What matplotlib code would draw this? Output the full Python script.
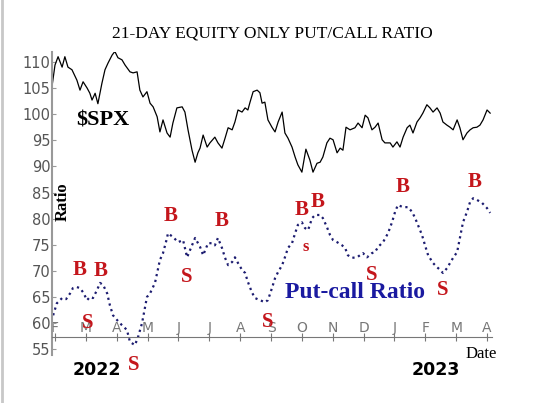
# Grafico: razon put/call de 21 dias (solo acciones) contra el SPX.

import matplotlib
matplotlib.use('Agg')
import matplotlib.pyplot as plt

# Meses del eje x (feb 2022 - abr 2023), posicion = indice del mes.
meses = ['F', 'M', 'A', 'M', 'J', 'J', 'A', 'S', 'O', 'N', 'D', 'J', 'F', 'M', 'A']
ticks_y = [55, 60, 65, 70, 75, 80, 85, 90, 95, 100, 105, 110]

# $SPX (escalado sobre el mismo eje).
spx_x = [-0.09, 0.00, 0.10, 0.23, 0.32, 0.42, 0.55, 0.71, 0.81, 0.91, 1.04, 1.13,
         1.20, 1.30, 1.39, 1.52, 1.62, 1.72, 1.85, 1.94, 2.04, 2.17, 2.27, 2.43,
         2.53, 2.66, 2.75, 2.85, 2.98, 3.08, 3.18, 3.31, 3.40, 3.50, 3.63, 3.73,
         3.82, 3.95, 4.12, 4.21, 4.31, 4.44, 4.54, 4.63, 4.70, 4.80, 4.93, 5.02,
         5.18, 5.28, 5.41, 5.51, 5.61, 5.74, 5.83, 5.93, 6.06, 6.16, 6.25, 6.32,
         6.42, 6.55, 6.64, 6.71, 6.80, 6.90, 7.03, 7.13, 7.23, 7.36, 7.45, 7.55,
         7.68, 7.78, 7.87, 8.00, 8.13, 8.26, 8.36, 8.49, 8.59, 8.68, 8.81, 8.91,
         9.01, 9.14, 9.24, 9.33, 9.43, 9.56, 9.72, 9.82, 9.95, 10.05, 10.14, 10.27,
         10.37, 10.47, 10.60, 10.69, 10.86, 10.95, 11.08, 11.18, 11.28, 11.41, 11.50, 11.60,
         11.73, 11.83, 11.92, 12.05, 12.15, 12.25, 12.38, 12.48, 12.57, 12.70, 12.80, 12.90,
         13.03, 13.12, 13.22, 13.35, 13.45, 13.55, 13.67, 13.77, 13.87, 14.00, 14.10]
spx_y = [105.6, 109.4, 111.0, 109.0, 111.0, 109.0, 108.5, 106.5, 104.6, 106.2, 105.0, 104.0,
         102.7, 104.0, 102.0, 105.9, 108.5, 109.8, 111.3, 112.0, 110.8, 110.4, 109.4, 108.1,
         107.9, 108.1, 104.6, 103.3, 104.3, 102.1, 101.4, 99.5, 96.6, 98.9, 96.4, 95.6,
         98.3, 101.2, 101.4, 100.4, 97.0, 93.1, 90.8, 92.6, 93.5, 96.0, 93.7, 94.5,
         95.6, 94.5, 93.5, 95.4, 97.4, 97.0, 98.5, 100.8, 100.4, 101.2, 100.8, 102.3,
         104.3, 104.6, 104.1, 102.1, 102.3, 98.9, 97.5, 96.6, 98.5, 100.4, 96.4, 95.4,
         93.7, 91.8, 90.3, 88.9, 93.3, 91.2, 88.9, 90.6, 90.8, 91.8, 94.5, 95.4,
         95.1, 92.6, 93.5, 93.1, 97.5, 97.0, 97.4, 98.3, 97.4, 99.8, 99.3, 97.0,
         97.5, 98.3, 95.1, 94.5, 94.5, 93.7, 94.7, 93.7, 95.6, 97.4, 97.9, 96.4,
         98.5, 99.3, 100.2, 101.8, 101.2, 100.4, 101.2, 100.2, 98.5, 97.9, 97.5, 97.0,
         98.9, 97.4, 95.1, 96.4, 97.0, 97.4, 97.5, 97.9, 98.9, 100.8, 100.2]

# Razon put/call.
pc_x = [-0.06, 0.06, 0.23, 0.36, 0.49, 0.58, 0.71, 0.81, 0.91, 1.04, 1.13, 1.23,
        1.36, 1.46, 1.56, 1.69, 1.78, 1.88, 2.01, 2.17, 2.33, 2.43, 2.59, 2.69,
        2.82, 2.98, 3.08, 3.24, 3.40, 3.50, 3.63, 3.66, 3.82, 3.99, 4.15, 4.28,
        4.44, 4.54, 4.70, 4.80, 4.96, 5.09, 5.18, 5.28, 5.41, 5.51, 5.61, 5.74,
        5.83, 5.93, 6.06, 6.16, 6.25, 6.38, 6.48, 6.64, 6.80, 6.90, 7.03, 7.13,
        7.23, 7.36, 7.45, 7.55, 7.68, 7.78, 7.87, 8.00, 8.10, 8.20, 8.33, 8.43,
        8.59, 8.68, 8.81, 8.91, 9.01, 9.14, 9.30, 9.40, 9.49, 9.62, 9.79, 9.88,
        9.98, 10.11, 10.27, 10.37, 10.47, 10.63, 10.79, 10.92, 11.02, 11.11, 11.28, 11.44,
        11.57, 11.67, 11.76, 11.89, 11.99, 12.09, 12.25, 12.38, 12.48, 12.57, 12.70, 12.80,
        12.90, 13.03, 13.12, 13.22, 13.35, 13.45, 13.55, 13.67, 13.84, 14.00, 14.10]
pc_y = [61.5, 63.8, 64.8, 64.6, 65.7, 66.7, 66.9, 66.7, 65.9, 64.4, 65.0, 64.8,
        66.3, 67.7, 67.3, 65.7, 63.4, 61.5, 60.6, 59.6, 58.7, 56.4, 55.8, 57.3,
        60.0, 65.0, 65.7, 67.7, 72.1, 73.4, 76.3, 77.2, 76.5, 75.5, 75.9, 72.6,
        74.9, 76.3, 74.6, 73.0, 75.3, 75.3, 74.9, 76.3, 74.4, 72.5, 71.1, 71.7,
        72.6, 71.5, 70.2, 69.6, 67.9, 65.9, 64.8, 64.4, 64.0, 64.4, 66.7, 68.6,
        69.8, 71.1, 72.6, 74.4, 75.3, 77.2, 78.8, 79.3, 78.2, 77.8, 80.1, 80.7,
        80.7, 80.1, 78.4, 76.9, 75.9, 75.5, 74.9, 74.4, 73.0, 72.5, 72.6, 73.0,
        73.4, 72.6, 73.4, 73.6, 74.6, 75.5, 77.2, 79.3, 81.3, 82.6, 82.2, 82.2,
        81.3, 80.1, 78.8, 76.9, 74.9, 73.0, 71.5, 70.7, 70.2, 69.6, 70.5, 71.5,
        72.5, 73.6, 76.3, 79.3, 81.3, 83.2, 83.9, 83.6, 83.0, 82.0, 81.1]

# Senales de compra (B) y venta (S).
senal_x = [0.79, 1.49, 1.07, 2.56, 3.76, 5.41, 4.28, 6.90, 8.00, 8.52, 8.13, 11.28, 13.61, 10.27, 12.57]
senal_y = [70.2, 70.0, 60.0, 52.0, 80.5, 79.5, 68.9, 60.2, 81.6, 83.2, 74.6, 86.1, 87.0, 69.2, 66.3]
senal_txt = ['B', 'B', 'S', 'S', 'B', 'B', 'S', 'S', 'B', 'B', 's', 'B', 'B', 'S', 'S']

rojo = '#c4161c'
serif = 'Liberation Serif'

fig = plt.figure(figsize=(5.4, 4.03), dpi=100)
ax = fig.add_axes([0.0963, 0.1191, 0.8148, 0.7519])

# Borde gris a la izquierda de la imagen original.
fig.add_artist(plt.Line2D([0.003, 0.003], [0, 1], color='#c8c8c8', lw=2))

ax.plot(spx_x, spx_y, color='black', lw=0.9)
ax.plot(pc_x, pc_y, color='#1c1c70', lw=1.6, ls=':')

for x, y, t in zip(senal_x, senal_y, senal_txt):
    ax.text(x, y, t, color=rojo, family=serif, weight='bold',
            size=12 if t == 's' else 15, ha='center', va='center', clip_on=False)

ax.set_xlim(-0.097, 14.16)
ax.set_ylim(53.9, 111.9)
ax.set_yticks(ticks_y)
ax.set_xticks(range(len(meses)))
ax.set_xticklabels(meses)

ax.spines['top'].set_visible(False)
ax.spines['right'].set_visible(False)
ax.spines['left'].set_color('#999999')
ax.spines['left'].set_linewidth(1.5)
ax.spines['bottom'].set_position(('data', 57.3))
ax.spines['bottom'].set_color('#777777')
ax.tick_params(axis='y', direction='in', length=3, color='#999999',
               labelcolor='#555555', labelsize=10.5, pad=1)
ax.tick_params(axis='x', direction='inout', length=6, color='#777777',
               labelcolor='#777777', labelsize=10, pad=-15)

fig.text(0.505, 1 - 33 / 403, '21-DAY EQUITY ONLY PUT/CALL RATIO', family=serif,
         size=12.5, ha='center', va='center')
fig.text(0.191, 0.702, r'\$SPX', family=serif, weight='bold', size=16,
         ha='center', va='center')
fig.text(0.117, 0.499, 'Ratio', family=serif, weight='bold', size=12,
         rotation=90, ha='center', va='center')
fig.text(0.657, 0.275, 'Put-call Ratio', family=serif, weight='bold', size=17,
         color='#1a1aa0', ha='center', va='center')
fig.text(0.891, 0.122, 'Date', family=serif, size=12, ha='center', va='center')
fig.text(0.180, 0.082, '2022', weight='bold', size=12.5, ha='center', va='center')
fig.text(0.807, 0.082, '2023', weight='bold', size=12.5, ha='center', va='center')

fig.savefig('out.png', dpi=100)
